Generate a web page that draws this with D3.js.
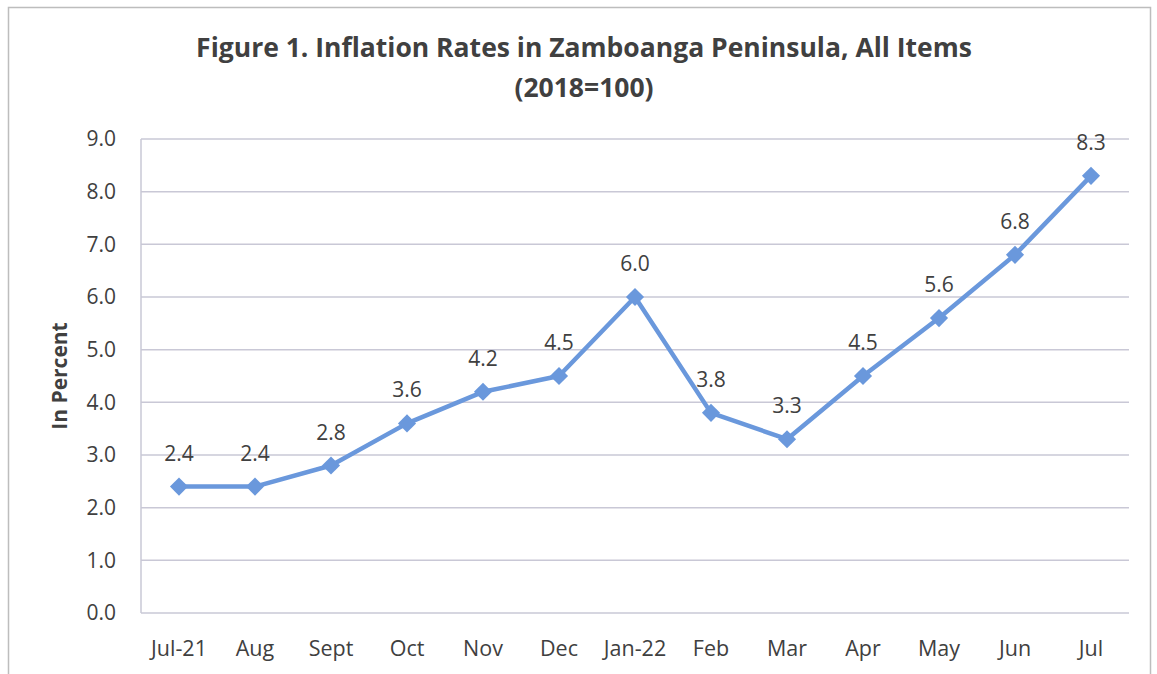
<!DOCTYPE html>
<html>
<head>
<meta charset="utf-8">
<script src="https://cdn.jsdelivr.net/npm/d3@7"></script>
<style>
  body { margin: 0; background: #fff; }
  text { font-family: "Open Sans", "Noto Sans", sans-serif; fill: #404040; }
</style>
</head>
<body>
<div id="chart"></div>
<script>
// chart data
var months = ["Jul-21", "Aug", "Sept", "Oct", "Nov", "Dec", "Jan-22", "Feb", "Mar", "Apr", "May", "Jun", "Jul"];
var rates = [2.4, 2.4, 2.8, 3.6, 4.2, 4.5, 6.0, 3.8, 3.3, 4.5, 5.6, 6.8, 8.3];
var yTicks = [0, 1, 2, 3, 4, 5, 6, 7, 8, 9];

var W = 1157, H = 674;
var margin = { top: 139, right: 28, bottom: 61, left: 141 };
var width = W - margin.left - margin.right,
    height = H - margin.top - margin.bottom;

var svg = d3.select("#chart").append("svg")
    .attr("width", W)
    .attr("height", H);

// outer chart frame
svg.append("rect")
    .attr("x", 8.5).attr("y", 7.5)
    .attr("width", 1142).attr("height", 680)
    .attr("fill", "none")
    .attr("stroke", "#bdbdbd")
    .attr("stroke-width", 1.5);

// title
svg.append("text")
    .attr("x", 584).attr("y", 57)
    .attr("text-anchor", "middle")
    .style("font-size", "26.5px").style("font-weight", "bold")
    .text("Figure 1. Inflation Rates in Zamboanga Peninsula, All Items");
svg.append("text")
    .attr("x", 584).attr("y", 97)
    .attr("text-anchor", "middle")
    .style("font-size", "26.5px").style("font-weight", "bold")
    .text("(2018=100)");

var g = svg.append("g")
    .attr("transform", "translate(" + margin.left + "," + margin.top + ")");

var x = d3.scaleBand().domain(months).range([0, width]);
var y = d3.scaleLinear().domain([0, 9]).range([height, 0]);

// gridlines
g.selectAll(".grid").data(yTicks).enter().append("line")
    .attr("class", "grid")
    .attr("x1", 0).attr("x2", width)
    .attr("y1", function(d) { return y(d); })
    .attr("y2", function(d) { return y(d); })
    .attr("stroke", "#c9c8d6")
    .attr("stroke-width", 1.5);

// left axis line
g.append("line")
    .attr("x1", 0).attr("x2", 0)
    .attr("y1", 0).attr("y2", height)
    .attr("stroke", "#c9c8d6")
    .attr("stroke-width", 1.5);

// y tick labels
g.selectAll(".ylab").data(yTicks).enter().append("text")
    .attr("class", "ylab")
    .attr("x", -25)
    .attr("y", function(d) { return y(d); })
    .attr("dy", "0.35em")
    .attr("text-anchor", "end")
    .style("font-size", "21px")
    .text(function(d) { return d3.format(".1f")(d); });

// x tick labels
g.selectAll(".xlab").data(months).enter().append("text")
    .attr("class", "xlab")
    .attr("x", function(d) { return x(d) + x.bandwidth() / 2; })
    .attr("y", height + 43)
    .attr("text-anchor", "middle")
    .style("font-size", "21.5px")
    .text(function(d) { return d; });

// y axis title
svg.append("text")
    .attr("transform", "translate(67,376)rotate(-90)")
    .attr("text-anchor", "middle")
    .style("font-size", "21px").style("font-weight", "bold")
    .text("In Percent");

var line = d3.line()
    .x(function(d, i) { return x(months[i]) + x.bandwidth() / 2; })
    .y(function(d) { return y(d); });

g.append("path")
    .datum(rates)
    .attr("d", line)
    .attr("fill", "none")
    .attr("stroke", "#6a98dc")
    .attr("stroke-width", 4.5)
    .attr("stroke-linejoin", "round");

// diamond markers
g.selectAll(".pt").data(rates).enter().append("path")
    .attr("class", "pt")
    .attr("d", d3.symbol().type(d3.symbolDiamond2).size(210))
    .attr("transform", function(d, i) {
        return "translate(" + (x(months[i]) + x.bandwidth() / 2) + "," + y(d) + ")";
    })
    .attr("fill", "#6a98dc");

// value labels
g.selectAll(".val").data(rates).enter().append("text")
    .attr("class", "val")
    .attr("x", function(d, i) { return x(months[i]) + x.bandwidth() / 2; })
    .attr("y", function(d) { return y(d) - 26; })
    .attr("text-anchor", "middle")
    .style("font-size", "21px")
    .text(function(d) { return d3.format(".1f")(d); });
</script>
</body>
</html>
